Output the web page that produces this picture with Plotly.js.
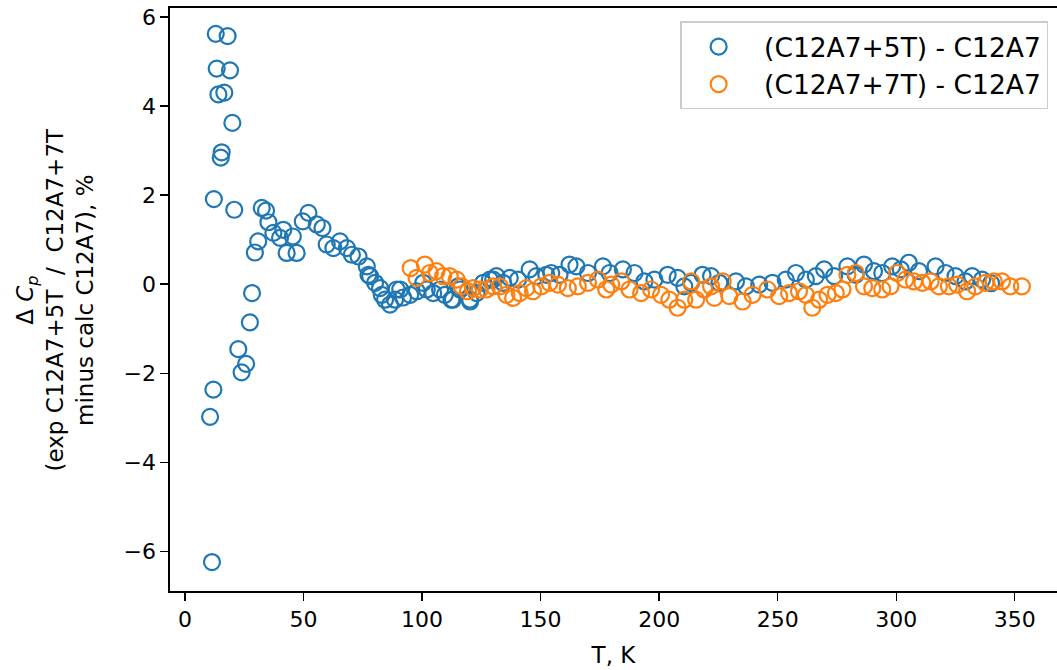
<!DOCTYPE html>
<html>
<head>
<meta charset="utf-8">
<script src="https://cdn.plot.ly/plotly-3.0.1.min.js"></script>
<style>html,body{margin:0;padding:0;background:#fff;overflow:hidden}</style>
</head>
<body>
<div id="chart" style="width:1057px;height:670px"></div>
<script>
// (C12A7+5T) - C12A7
const T5 = [10.6, 11.4, 12.0, 12.2, 13.0, 13.4, 14.1, 15.1, 15.5, 16.6, 18.0, 19.0, 20.0, 20.8, 22.5, 23.9, 25.8, 27.4, 28.3, 29.5,
  30.9, 32.4, 34.2, 35.2, 37.3, 40.1, 41.5, 42.9, 45.5, 47.1, 49.7, 52.1, 55.6, 58.0, 59.8, 62.6, 65.4, 68.3, 70.4, 73.2,
  76.7, 77.4, 78.1, 80.2, 82.3, 83.0, 84.4, 86.5, 88.6, 89.3, 90.8, 92.0, 95.0, 97.8, 100.5, 102.0, 104.7, 107.6, 109.6, 112.4,
  113.0, 115.2, 116.0, 120.2, 120.3, 123.0, 125.8, 128.6, 130.0, 131.4, 134.2, 137.0, 140.5, 145.4, 148.2, 152.4, 154.5, 158.0, 162.2, 165.1,
  170.0, 176.3, 179.1, 184.7, 189.6, 193.8, 198.0, 203.6, 207.8, 210.6, 213.5, 218.3, 221.9, 225.4, 232.4, 236.6, 242.2, 247.8, 253.4, 257.7,
  261.9, 266.1, 269.6, 273.8, 279.4, 282.9, 286.4, 290.6, 294.1, 298.3, 301.9, 305.3, 309.6, 316.6, 320.8, 325.0, 329.2, 332.0, 336.2, 340.0];
const dCp5 = [-2.98, -6.24, -2.37, 1.91, 5.62, 4.84, 4.26, 2.84, 2.96, 4.30, 5.57, 4.80, 3.62, 1.67, -1.46, -1.98, -1.79, -0.86, -0.20, 0.71,
  0.96, 1.71, 1.65, 1.39, 1.15, 1.04, 1.22, 0.70, 1.07, 0.70, 1.41, 1.60, 1.34, 1.26, 0.89, 0.81, 0.96, 0.81, 0.66, 0.62,
  0.40, 0.21, 0.18, 0.03, -0.09, -0.24, -0.35, -0.46, -0.35, -0.12, -0.12, -0.30, -0.24, -0.16, 0.03, -0.12, -0.20, -0.12, -0.24, -0.35,
  -0.35, -0.05, -0.12, -0.35, -0.39, -0.20, 0.03, 0.10, 0.10, 0.18, 0.03, 0.14, 0.10, 0.33, 0.18, 0.21, 0.25, 0.21, 0.44, 0.40,
  0.25, 0.40, 0.25, 0.33, 0.25, 0.06, 0.10, 0.21, 0.14, -0.05, 0.03, 0.21, 0.18, 0.03, 0.06, -0.05, -0.01, 0.03, 0.10, 0.25,
  0.10, 0.18, 0.33, 0.18, 0.40, 0.21, 0.44, 0.29, 0.25, 0.40, 0.33, 0.48, 0.29, 0.40, 0.25, 0.18, 0.06, 0.18, 0.10, 0.02];

// (C12A7+7T) - C12A7
const T7 = [95.2, 97.7, 101.2, 103.3, 106.1, 108.9, 111.7, 114.6, 116.7, 119.4, 121.5, 124.4, 127.2, 130.0, 132.8, 135.6, 138.4, 141.2, 144.0, 146.8,
  150.3, 153.8, 157.3, 161.5, 165.7, 170.0, 174.2, 177.7, 179.8, 184.0, 187.5, 192.4, 196.6, 200.8, 204.3, 207.8, 210.6, 213.5, 215.6, 219.0,
  221.9, 223.3, 226.8, 229.6, 235.2, 239.4, 245.7, 250.6, 254.8, 259.0, 261.9, 264.6, 267.5, 271.0, 274.5, 277.3, 279.4, 282.9, 286.4, 289.9,
  294.1, 297.6, 300.4, 303.9, 307.5, 311.0, 314.5, 318.0, 322.2, 325.7, 329.9, 333.4, 337.6, 341.1, 344.6, 348.1, 353.0];
const dCp7 = [0.36, 0.14, 0.44, 0.25, 0.29, 0.18, 0.18, 0.10, -0.05, -0.16, -0.09, -0.12, -0.12, -0.05, -0.05, -0.24, -0.31, -0.20, -0.09, -0.16,
  -0.05, 0.03, -0.01, -0.09, -0.05, 0.03, 0.10, -0.12, -0.01, 0.06, -0.12, -0.20, -0.12, -0.24, -0.35, -0.53, -0.35, 0.06, -0.35, -0.12,
  -0.05, -0.31, 0.06, -0.27, -0.39, -0.24, -0.12, -0.27, -0.20, -0.16, -0.24, -0.53, -0.35, -0.24, -0.20, -0.12, 0.21, 0.25, -0.05, -0.09,
  -0.12, -0.05, 0.25, 0.10, 0.06, 0.03, 0.06, -0.05, -0.05, -0.01, -0.16, -0.05, 0.03, 0.06, 0.06, -0.05, -0.05];

const seriesNames = ['(C12A7+5T) - C12A7', '(C12A7+7T) - C12A7'];
const xTicks = [0, 50, 100, 150, 200, 250, 300, 350];
const yTicks = [-6, -4, -2, 0, 2, 4, 6];
const yTitle = 'Δ <i>C</i><sub><i>p</i></sub><br>(exp C12A7+5T \u00a0/\u00a0 C12A7+7T<br>minus calc C12A7), %';

const FONT = 'DejaVu Sans, sans-serif';
const mk = (c) => ({symbol: 'circle-open', size: 16, color: c, line: {width: 2.2, color: c}});

const traces = [
  {x: T5, y: dCp5, type: 'scatter', mode: 'markers', name: '\u00a0' + seriesNames[0], legendgroup: 'a', marker: mk('#1f77b4')},
  {x: T7, y: dCp7, type: 'scatter', mode: 'markers', name: '\u00a0' + seriesNames[1], legendgroup: 'b', marker: mk('#ff7f0e')},
  // invisible trace only to draw the top spine
  {x: [0], y: [0], xaxis: 'x2', type: 'scatter', mode: 'markers', marker: {opacity: 0}, showlegend: false, hoverinfo: 'skip'}
];

const layout = {
  width: 1057, height: 670,
  margin: {l: 170, r: 0, t: 8, b: 79, pad: 0},
  paper_bgcolor: '#fff', plot_bgcolor: '#fff',
  font: {family: FONT, size: 22, color: '#000'},
  showlegend: true,
  legend: {
    x: 0.99, y: 0.977, xanchor: 'right', yanchor: 'top',
    bgcolor: 'rgba(255,255,255,0.8)', bordercolor: '#cccccc', borderwidth: 1.5,
    font: {family: FONT, size: 26.5, color: '#000'},
    itemwidth: 64, tracegroupgap: 3, traceorder: 'normal'
  },
  xaxis: {
    range: [-6.3, 367.8], tickvals: xTicks, ticktext: xTicks.map(String),
    showgrid: false, zeroline: false,
    showline: true, linecolor: '#000', linewidth: 1.6, mirror: false,
    ticks: 'outside', ticklen: 8, tickwidth: 1.4, tickcolor: '#000',
    tickfont: {family: FONT, size: 22},
    title: {text: 'T, K', font: {family: FONT, size: 23}, standoff: 16}
  },
  xaxis2: {overlaying: 'x', side: 'top', range: [-6.3, 367.8], showline: true, linecolor: '#000', linewidth: 1.6,
    showticklabels: false, ticks: '', showgrid: false, zeroline: false},
  yaxis: {
    range: [-6.89, 6.2], tickvals: yTicks,
    showgrid: false, zeroline: false,
    showline: true, linecolor: '#000', linewidth: 1.6, mirror: false,
    ticks: 'outside', ticklen: 8, tickwidth: 1.4, tickcolor: '#000',
    tickfont: {family: FONT, size: 22}
  },
  annotations: [{
    text: yTitle, xref: 'paper', yref: 'paper', x: -0.1297, y: 0.5,
    xanchor: 'center', yanchor: 'middle', textangle: -90, showarrow: false,
    font: {family: FONT, size: 23, color: '#000'}, align: 'center'
  }]
};

Plotly.newPlot('chart', traces, layout, {displayModeBar: false, staticPlot: true});
</script>
</body>
</html>
